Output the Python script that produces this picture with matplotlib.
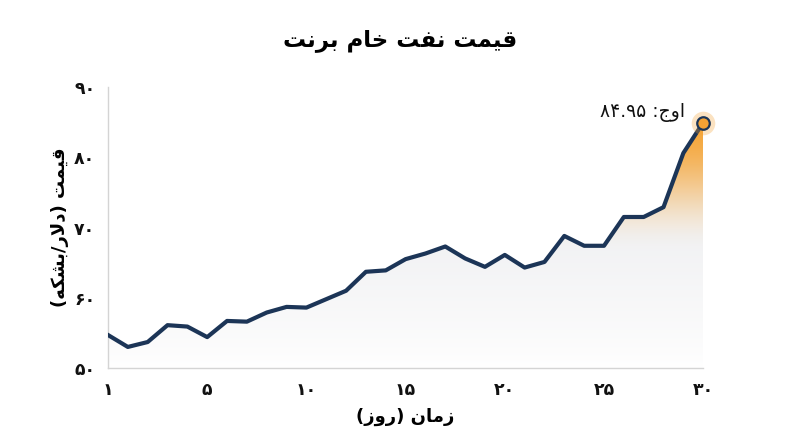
import numpy as np
import matplotlib.pyplot as plt
from matplotlib.path import Path
from matplotlib.patches import PathPatch

# data (31 daily points)
days = np.arange(31)
prices = [54.7, 53.0, 53.7, 56.1, 55.9, 54.4, 56.7, 56.6, 57.9, 58.7,
          58.6, 59.8, 61.0, 63.7, 63.9, 65.5, 66.3, 67.3, 65.6, 64.4,
          66.1, 64.3, 65.1, 68.8, 67.4, 67.4, 71.5, 71.5, 72.9, 80.6,
          84.95]
x_ticks = [0, 5, 10, 15, 20, 25, 30]
x_tick_labels = ['1', '5', '10', '15', '20', '25', '30']
y_ticks = [50, 60, 70, 80, 90]

title = 'قیمت نفت خام برنت'
x_label = ['زمان', 'روز']
y_label = ['قیمت', 'دلار', 'بشکه']
peak_label = 'اوج'

LINE = '#1c3557'
ORANGE = '#f4a234'

# matplotlib has no arabic shaping, so pick presentation forms by hand
#(isolated, final, initial, medial)
FORMS = {
    '\u0627': ('\ufe8d', '\ufe8e', None, None),
    '\u0628': ('\ufe8f', '\ufe90', '\ufe91', '\ufe92'),
    '\u062a': ('\ufe95', '\ufe96', '\ufe97', '\ufe98'),
    '\u062c': ('\ufe9d', '\ufe9e', '\ufe9f', '\ufea0'),
    '\u062e': ('\ufea5', '\ufea6', '\ufea7', '\ufea8'),
    '\u062f': ('\ufea9', '\ufeaa', None, None),
    '\u0631': ('\ufead', '\ufeae', None, None),
    '\u0632': ('\ufeaf', '\ufeb0', None, None),
    '\u0634': ('\ufeb5', '\ufeb6', '\ufeb7', '\ufeb8'),
    '\u0641': ('\ufed1', '\ufed2', '\ufed3', '\ufed4'),
    '\u0642': ('\ufed5', '\ufed6', '\ufed7', '\ufed8'),
    '\u0644': ('\ufedd', '\ufede', '\ufedf', '\ufee0'),
    '\u0645': ('\ufee1', '\ufee2', '\ufee3', '\ufee4'),
    '\u0646': ('\ufee5', '\ufee6', '\ufee7', '\ufee8'),
    '\u0647': ('\ufee9', '\ufeea', '\ufeeb', '\ufeec'),
    '\u0648': ('\ufeed', '\ufeee', None, None),
    '\u06a9': ('\ufb8e', '\ufb8f', '\ufb90', '\ufb91'),
    '\u06cc': ('\ufbfc', '\ufbfd', '\ufbfe', '\ufbff'),
}


def shape(word):
    word = word.replace('\u064a', '\u06cc').replace('\u0643', '\u06a9')
    out = []
    i = 0
    n = len(word)
    while i < n:
        c = word[i]
        if c not in FORMS:
            out.append(c)
            i += 1
            continue
        prev = word[i-1] if i > 0 else ''
        joins_prev = prev in FORMS and FORMS[prev][2] is not None
        #lam + alef ligature
        if c == '\u0644' and i+1 < n and word[i+1] == '\u0627':
            out.append('\ufefc' if joins_prev else '\ufefb')
            i += 2
            continue
        nxt = word[i+1] if i+1 < n else ''
        joins_next = nxt in FORMS and FORMS[c][2] is not None
        iso, fin, ini, med = FORMS[c]
        if joins_prev and joins_next:
            out.append(med)
        elif joins_prev:
            out.append(fin)
        elif joins_next:
            out.append(ini)
        else:
            out.append(iso)
        i += 1
    return ''.join(out)


def rtl(word):
    return shape(word)[::-1]


def fa(s):
    return s.translate(str.maketrans('0123456789', '۰۱۲۳۴۵۶۷۸۹'))


title_txt = ' '.join(rtl(w) for w in reversed(title.split()))
xlabel_txt = '(' + rtl(x_label[1]) + ') ' + rtl(x_label[0])
ylabel_txt = '(' + rtl(y_label[2]) + '/' + rtl(y_label[1]) + ') ' + rtl(y_label[0])
peak_txt = fa('{:.2f}'.format(prices[-1])) + ' :' + rtl(peak_label)

plt.rcParams['font.family'] = ['DejaVu Sans']

fig = plt.figure(figsize=(8, 4.47), dpi=100)
ax = fig.add_axes([0.135, 0.1767, 0.744, 0.6286])

#gradient fill under the line: light gray fading down, orange on the high part
xs = np.linspace(0, 30, 300)
ys = np.linspace(50, 90, 400)
X, Y = np.meshgrid(xs, ys)
a_g = np.clip((Y - 50) / 18, 0, 1)**0.8
gray = np.array([0.948, 0.95, 0.956])
base = 1 - a_g[..., None] * (1 - gray)
t = np.clip((Y - 66.5) / 18, 0, 1)
a_o = t * t * (3 - 2 * t) * 0.95
orange = np.array([0.96, 0.64, 0.2])
rgb = base * (1 - a_o[..., None]) + orange * a_o[..., None]
im = ax.imshow(rgb, extent=[0, 30, 50, 90], origin='lower', aspect='auto', zorder=1)
verts = [(0, 50)] + list(zip(days, prices)) + [(30, 50)]
clip = PathPatch(Path(verts), facecolor='none', edgecolor='none')
ax.add_patch(clip)
im.set_clip_path(clip)

ax.plot(days, prices, color=LINE, lw=3.0, zorder=3)
ax.plot(days[-1], prices[-1], 'o', ms=17, color=ORANGE, alpha=0.3, mec='none', zorder=4, clip_on=False)
ax.plot(days[-1], prices[-1], 'o', ms=9, mfc=ORANGE, mec=LINE, mew=1.6, zorder=5, clip_on=False)
ax.text(29.1, 86.4, peak_txt, ha='right', va='center', fontsize=13.5, color='#111111')

ax.set_xlim(0, 30)
ax.set_ylim(50, 90)
ax.set_xticks(x_ticks)
ax.set_xticklabels([fa(t) for t in x_tick_labels])
ax.set_yticks(y_ticks)
ax.set_yticklabels([fa(str(t)) for t in y_ticks])
ax.tick_params(length=0, labelsize=12.5, colors='#111111')
ax.tick_params(axis='x', pad=9)
ax.tick_params(axis='y', pad=9)
for lab in ax.get_xticklabels() + ax.get_yticklabels():
    lab.set_fontweight('bold')
for s in ['top', 'right']:
    ax.spines[s].set_visible(False)
for s in ['left', 'bottom']:
    ax.spines[s].set_color('#d4d4d4')
    ax.spines[s].set_linewidth(1.0)

ax.set_xlabel(xlabel_txt, fontsize=13, fontweight='bold', labelpad=7)
ax.set_ylabel(ylabel_txt, fontsize=13, fontweight='bold', labelpad=4)
fig.text(0.5, 0.91, title_txt, ha='center', va='center', fontsize=16.5, fontweight='bold')

fig.savefig('out.png', dpi=100, facecolor='white')
